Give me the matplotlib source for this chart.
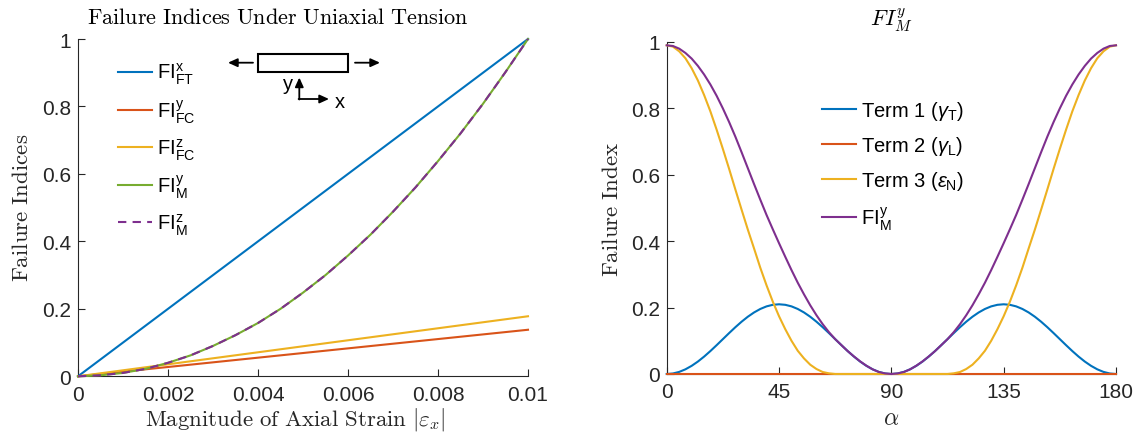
import matplotlib
matplotlib.use("Agg")
import matplotlib.pyplot as plt
from matplotlib.font_manager import FontProperties

plt.rcParams["font.family"] = ["Liberation Sans", "DejaVu Sans"]
plt.rcParams["mathtext.fontset"] = "custom"
plt.rcParams["mathtext.rm"] = "Liberation Sans"
plt.rcParams["mathtext.it"] = "Liberation Sans:italic"
plt.rcParams["mathtext.bf"] = "Liberation Sans:bold"

# matlab default line colours
BLUE = "#0072BD"
ORANGE = "#D95319"
YELLOW = "#EDB120"
PURPLE = "#7E2F8E"
GREEN = "#77AC30"
AXCOL = "#262626"

# ---- left panel: failure indices vs axial strain ----
strain_lin = [0.0, 0.01]
fi_ft_x = [0.0, 1.0]
fi_fc_y = [0.0, 0.138]
fi_fc_z = [0.0, 0.178]

strain = [0.0, 0.0005, 0.001, 0.0015, 0.002, 0.0025, 0.003, 0.0035, 0.004, 0.0045,
          0.005, 0.0055, 0.006, 0.0065, 0.007, 0.0075, 0.008, 0.0085, 0.009, 0.0095, 0.01]
fi_m_y = [0.0, 0.003, 0.01, 0.022, 0.04, 0.062, 0.09, 0.122, 0.158, 0.2,
          0.248, 0.3, 0.358, 0.42, 0.488, 0.56, 0.638, 0.72, 0.808, 0.902, 1.0]
fi_m_z = [0.0, 0.003, 0.01, 0.022, 0.04, 0.062, 0.09, 0.122, 0.158, 0.2,
          0.248, 0.3, 0.358, 0.42, 0.488, 0.56, 0.638, 0.72, 0.808, 0.902, 1.0]

left_labels = [r"FI$_{\mathrm{FT}}^{\mathrm{x}}$", r"FI$_{\mathrm{FC}}^{\mathrm{y}}$",
               r"FI$_{\mathrm{FC}}^{\mathrm{z}}$", r"FI$_{\mathrm{M}}^{\mathrm{y}}$",
               r"FI$_{\mathrm{M}}^{\mathrm{z}}$"]

# ---- right panel: terms of FI_M^y vs alpha (2.5 deg steps) ----
alpha = [0, 2.5, 5, 7.5, 10, 12.5, 15, 17.5, 20, 22.5, 25, 27.5, 30, 32.5, 35, 37.5,
         40, 42.5, 45, 47.5, 50, 52.5, 55, 57.5, 60, 62.5, 65, 67.5, 70, 72.5, 75, 77.5,
         80, 82.5, 85, 87.5, 90, 92.5, 95, 97.5, 100, 102.5, 105, 107.5, 110, 112.5,
         115, 117.5, 120, 122.5, 125, 127.5, 130, 132.5, 135, 137.5, 140, 142.5, 145,
         147.5, 150, 152.5, 155, 157.5, 160, 162.5, 165, 167.5, 170, 172.5, 175, 177.5, 180]
term1 = [0.0, 0.0016, 0.0063, 0.0141, 0.0246, 0.0375, 0.0525, 0.0691, 0.0868, 0.105,
         0.1232, 0.1409, 0.1575, 0.1725, 0.1854, 0.1959, 0.2037, 0.2084, 0.21,
         0.2084, 0.2037, 0.1959, 0.1854, 0.1725, 0.1575, 0.1409, 0.1232, 0.105,
         0.0868, 0.0691, 0.0525, 0.0375, 0.0246, 0.0141, 0.0063, 0.0016, 0.0,
         0.0016, 0.0063, 0.0141, 0.0246, 0.0375, 0.0525, 0.0691, 0.0868, 0.105,
         0.1232, 0.1409, 0.1575, 0.1725, 0.1854, 0.1959, 0.2037, 0.2084, 0.21,
         0.2084, 0.2037, 0.1959, 0.1854, 0.1725, 0.1575, 0.1409, 0.1232, 0.105,
         0.0868, 0.0691, 0.0525, 0.0375, 0.0246, 0.0141, 0.0063, 0.0016, 0.0]
term2 = [0.0] * 73
term3 = [0.99, 0.986, 0.972, 0.951, 0.921, 0.884, 0.84, 0.791, 0.736, 0.678, 0.618,
         0.556, 0.495, 0.435, 0.378, 0.32, 0.267, 0.218, 0.174, 0.135, 0.1, 0.07,
         0.047, 0.028, 0.015, 0.006, 0.002, 0.0, 0.0, 0.0, 0.0, 0.0, 0.0, 0.0, 0.0,
         0.0, 0.0,
         0.0, 0.0, 0.0, 0.0, 0.0, 0.0, 0.0, 0.0, 0.0, 0.002, 0.006, 0.015, 0.028,
         0.047, 0.07, 0.1, 0.135, 0.174, 0.218, 0.267, 0.32, 0.378, 0.435, 0.495,
         0.556, 0.618, 0.678, 0.736, 0.791, 0.84, 0.884, 0.921, 0.951, 0.972, 0.986, 0.99]
fi_total = [0.99, 0.988, 0.98, 0.967, 0.95, 0.928, 0.902, 0.872, 0.838, 0.8,
            0.759, 0.715, 0.668, 0.62, 0.572, 0.525, 0.479, 0.436, 0.394, 0.353,
            0.313, 0.275, 0.24, 0.207, 0.177, 0.15, 0.126, 0.105, 0.087, 0.069,
            0.053, 0.038, 0.025, 0.014, 0.006, 0.0016, 0.0,
            0.0016, 0.006, 0.014, 0.025, 0.038, 0.053, 0.069, 0.087, 0.105, 0.126,
            0.15, 0.177, 0.207, 0.24, 0.275, 0.313, 0.353, 0.394, 0.436, 0.479,
            0.525, 0.572, 0.62, 0.668, 0.715, 0.759, 0.8, 0.838, 0.872, 0.902,
            0.928, 0.95, 0.967, 0.98, 0.988, 0.99]

right_labels = [r"Term 1 ($\gamma_{\mathrm{T}}$)", r"Term 2 ($\gamma_{\mathrm{L}}$)",
                r"Term 3 ($\epsilon_{\mathrm{N}}$)", r"FI$_{\mathrm{M}}^{\mathrm{y}}$"]

W, H = 1141, 439
fig = plt.figure(figsize=(W / 100, H / 100), dpi=100)


def px_axes(x0, x1, ytop, ybot):
    return fig.add_axes([x0 / W, 1 - ybot / H, (x1 - x0) / W, (ybot - ytop) / H])


def style(ax):
    for s in ("top", "right"):
        ax.spines[s].set_visible(False)
    for s in ("left", "bottom"):
        ax.spines[s].set_color(AXCOL)
        ax.spines[s].set_linewidth(0.8)
    ax.tick_params(direction="in", length=5, width=0.8, color=AXCOL,
                   labelcolor=AXCOL, labelsize=15)
    ax.tick_params(axis="x", pad=6)
    ax.tick_params(axis="y", pad=5)


lw = 1.5
ax1 = px_axes(78, 528, 40, 377.3)
ax1.plot(strain_lin, fi_ft_x, color=BLUE, lw=lw, label=left_labels[0], clip_on=False, zorder=3)
ax1.plot(strain_lin, fi_fc_y, color=ORANGE, lw=lw, label=left_labels[1], clip_on=False, zorder=3)
ax1.plot(strain_lin, fi_fc_z, color=YELLOW, lw=lw, label=left_labels[2], clip_on=False, zorder=3)
ax1.plot(strain, fi_m_y, color=GREEN, lw=lw, label=left_labels[3], clip_on=False, zorder=3)
ax1.plot(strain, fi_m_z, color=PURPLE, lw=lw, ls=(0, (4, 3)), label=left_labels[4],
         clip_on=False, zorder=3)
ax1.set_xlim(0, 0.01)
ax1.set_ylim(0, 1)
ax1.set_xticks([0, 0.002, 0.004, 0.006, 0.008, 0.01])
ax1.set_xticklabels(["0", "0.002", "0.004", "0.006", "0.008", "0.01"])
ax1.set_yticks([0, 0.2, 0.4, 0.6, 0.8, 1])
ax1.set_yticklabels(["0", "0.2", "0.4", "0.6", "0.8", "1"])
style(ax1)
leg_font = FontProperties(family="Liberation Sans", size=14.5)
ax1.legend(loc="upper left", bbox_to_anchor=((118 - 78) / 450, 1 - (62 - 40) / 337.3),
           frameon=False, prop=leg_font, handlelength=1.7, handletextpad=0.25,
           labelspacing=0.55, borderpad=0, borderaxespad=0)

ax2 = px_axes(666.7, 1116, 43, 375)
ax2.plot(alpha, term1, color=BLUE, lw=lw, label=right_labels[0], clip_on=False, zorder=3)
ax2.plot(alpha, term2, color=ORANGE, lw=lw, label=right_labels[1], clip_on=False, zorder=3)
ax2.plot(alpha, term3, color=YELLOW, lw=lw, label=right_labels[2], clip_on=False, zorder=3)
ax2.plot(alpha, fi_total, color=PURPLE, lw=lw, label=right_labels[3], clip_on=False, zorder=3)
ax2.set_xlim(0, 180)
ax2.set_ylim(0, 1)
ax2.set_xticks([0, 45, 90, 135, 180])
ax2.set_yticks([0, 0.2, 0.4, 0.6, 0.8, 1])
ax2.set_yticklabels(["0", "0.2", "0.4", "0.6", "0.8", "1"])
style(ax2)
ax2.legend(loc="upper left", bbox_to_anchor=((822 - 666.7) / 449.3, 1 - (100 - 43) / 332),
           frameon=False, prop=leg_font, handlelength=1.7, handletextpad=0.25,
           labelspacing=0.6, borderpad=0, borderaxespad=0)

# titles and axis labels (latex style)
fig.text(278 / W, 1 - 18 / H, r"$\mathrm{Failure\ Indices\ Under\ Uniaxial\ Tension}$",
         ha="center", va="center", fontsize=16, math_fontfamily="cm", color="black")
fig.text(891 / W, 1 - 20 / H, r"$FI_M^y$", ha="center", va="center", fontsize=16,
         math_fontfamily="cm", color="black")
fig.text(295 / W, 1 - 420 / H, r"$\mathrm{Magnitude\ of\ Axial\ Strain}\ |\varepsilon_x|$",
         ha="center", va="center", fontsize=16.5, math_fontfamily="cm", color=AXCOL)
fig.text(891 / W, 1 - 419 / H, r"$\alpha$", ha="center", va="center", fontsize=17,
         math_fontfamily="cm", color=AXCOL)
fig.text(22 / W, 1 - 208 / H, r"$\mathrm{Failure\ Indices}$", ha="center", va="center",
         rotation=90, fontsize=16.5, math_fontfamily="cm", color=AXCOL)
fig.text(612 / W, 1 - 209 / H, r"$\mathrm{Failure\ Index}$", ha="center", va="center",
         rotation=90, fontsize=16.5, math_fontfamily="cm", color=AXCOL)

# loading sketch in the left panel
def fp(x, y):
    return (x, H - y)

rect = plt.Rectangle(fp(258.3, 72.7), 90, 17.7, transform=None, fill=False,
                     ec="black", lw=1.5)
fig.patches.append(rect)
arrow = dict(arrowstyle="-|>,head_length=0.55,head_width=0.25", color="black", lw=1.3,
             shrinkA=0, shrinkB=0)
for tip, tail in [((228, 63.7), (253, 63.7)), ((380, 63.7), (355, 63.7)),
                  ((299.3, 78.5), (299.3, 100.5)), ((329, 100), (298.6, 100))]:
    fig.add_artist(plt.Annotation("", xy=fp(*tip), xytext=fp(*tail),
                                  xycoords="figure pixels", textcoords="figure pixels",
                                  arrowprops=arrow))
fig.text(288 / W, 1 - 84 / H, "y", ha="center", va="center", fontsize=14.5)
fig.text(340 / W, 1 - 102 / H, "x", ha="center", va="center", fontsize=14.5)

fig.savefig("out.png", dpi=100)
